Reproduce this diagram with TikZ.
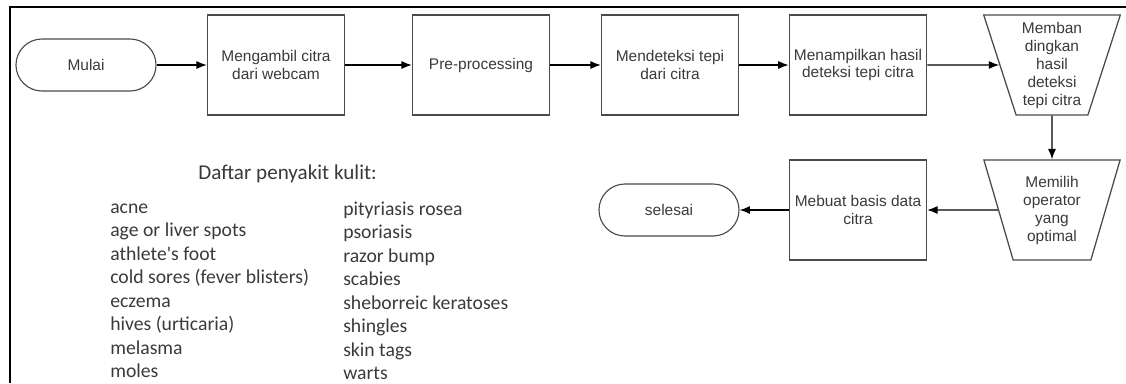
\documentclass[tikz,border=0pt]{standalone}
\usepackage{fontspec}
\setmainfont{Liberation Sans}
\newfontfamily\listfont{Carlito}
\usepackage{xcolor}
\usepackage{tikz}
\usetikzlibrary{positioning,shapes.geometric,arrows.meta}
\definecolor{garis}{HTML}{4A4A4A}
\definecolor{teks}{HTML}{3A3A3A}
\tikzset{
  proses/.style={draw=garis,line width=0.9pt,minimum width=3.425cm,minimum height=2.5cm,
    align=center,text=teks,font=\fontsize{11}{12.5}\selectfont},
  terminal/.style={draw=garis,line width=0.8pt,rounded corners=0.65cm,minimum width=3.5cm,
    minimum height=1.3cm,text=teks,font=\fontsize{11}{12.5}\selectfont},
  manual/.style={draw=garis,line width=0.9pt,trapezium,trapezium angle=72.3,shape border rotate=180,
    trapezium stretches=true,minimum width=3.425cm,minimum height=2.5cm,inner sep=1pt,
    align=center,text=teks,font=\fontsize{11}{12.8}\selectfont},
  item/.style={anchor=base west,inner sep=0pt,text=teks,font=\listfont\fontsize{14}{16.7}\selectfont}
}

\begin{document}
\begin{tikzpicture}[x=0.025cm,y=-0.025cm,>={Latex[length=2.6mm,width=2mm]}]
        \useasboundingbox (0,0) rectangle (1126,383);
        \draw[line width=1.1pt] (10,383) -- (10,7) -- (1126,7);

        \path
        % top row
        (86,65) node[terminal](mulai) {Mulai}
        (276,65) node[proses](ambil) {Mengambil citra\\dari webcam}
        (481,65) node[proses](pre) {Pre-processing}
        (670,65) node[proses](deteksi) {Mendeteksi tepi\\dari citra}
        (858,65) node[proses](tampil) {Menampilkan hasil\\deteksi tepi citra}
        (1052,65) node[manual](banding) {Memban\\dingkan\\hasil\\deteksi\\tepi citra}

        % bottom row
        (1052,210) node[manual](pilih) {Memilih\\operator\\yang\\optimal}
        (858,210) node[proses](basis) {Mebuat basis data\\citra}
        (669,210) node[terminal](selesai) {selesai}

        % list
        (198,179) node[item,font=\listfont\fontsize{15}{17}\selectfont](judul) {Daftar penyakit kulit:}
        (110,213) node[item](k1) {acne}
        (110,236.5) node[item](k2) {age or liver spots}
        (110,260) node[item](k3) {athlete's foot}
        (110,283.5) node[item](k4) {cold sores (fever blisters)}
        (110,307) node[item](k5) {eczema}
        (110,330.5) node[item](k6) {hives (urticaria)}
        (110,354) node[item](k7) {melasma}
        (110,377.5) node[item](k8) {moles}
        (343,215) node[item](r1) {pityriasis rosea}
        (343,238.5) node[item](r2) {psoriasis}
        (343,262) node[item](r3) {razor bump}
        (343,285.5) node[item](r4) {scabies}
        (343,309) node[item](r5) {sheborreic keratoses}
        (343,332.5) node[item](r6) {shingles}
        (343,356) node[item](r7) {skin tags}
        (343,379.5) node[item](r8) {warts}
        ;

        \draw[->,line width=0.9pt] (mulai) -- (ambil);
        \draw[->,line width=0.9pt] (ambil) -- (pre);
        \draw[->,line width=0.9pt] (pre) -- (deteksi);
        \draw[->,line width=0.9pt] (deteksi) -- (tampil);
        \draw[->,line width=0.9pt] (tampil) -- (banding);
        \draw[->,line width=0.9pt] (banding) -- (pilih);
        \draw[->,line width=0.9pt] (pilih) -- (basis);
        \draw[->,line width=0.9pt] (basis) -- (selesai);
      \end{tikzpicture}
\end{document}
